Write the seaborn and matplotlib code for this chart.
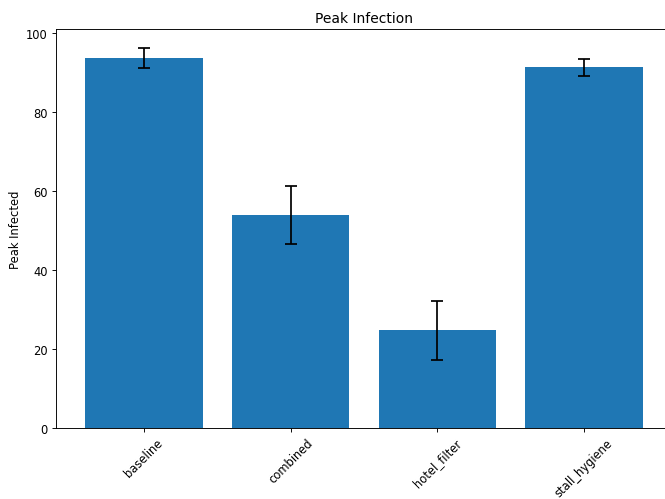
import matplotlib
matplotlib.use("Agg")
import matplotlib.pyplot as plt
import seaborn as sns
import pandas as pd

scenarios = ["baseline", "combined", "hotel_filter", "stall_hygiene"]
peak_mean = [93.7, 54.0, 24.7, 91.3]
peak_err = [2.5, 7.3, 7.5, 2.2]

df = pd.DataFrame({"scenario": scenarios, "peak": peak_mean})

fig = plt.figure(figsize=(8.0, 6.015), dpi=83.125)
ax = fig.add_axes([0.0842, 0.142, 1.0105 - 0.0842, 0.94 - 0.142])
sns.barplot(data=df, x="scenario", y="peak", color="#1f77b4", saturation=1,
            errorbar=None, width=0.8, ax=ax)
ax.errorbar(range(len(scenarios)), peak_mean, yerr=peak_err, fmt="none",
            ecolor="black", elinewidth=1.5, capsize=5, capthick=1.5)

ax.set_xlim(-0.6, len(scenarios) - 0.4)
ax.set_title("Peak Infection")
ax.set_ylabel("Peak Infected")
ax.set_xlabel("")
plt.setp(ax.get_xticklabels(), rotation=45)

fig.savefig("out.png", dpi=83.125)
